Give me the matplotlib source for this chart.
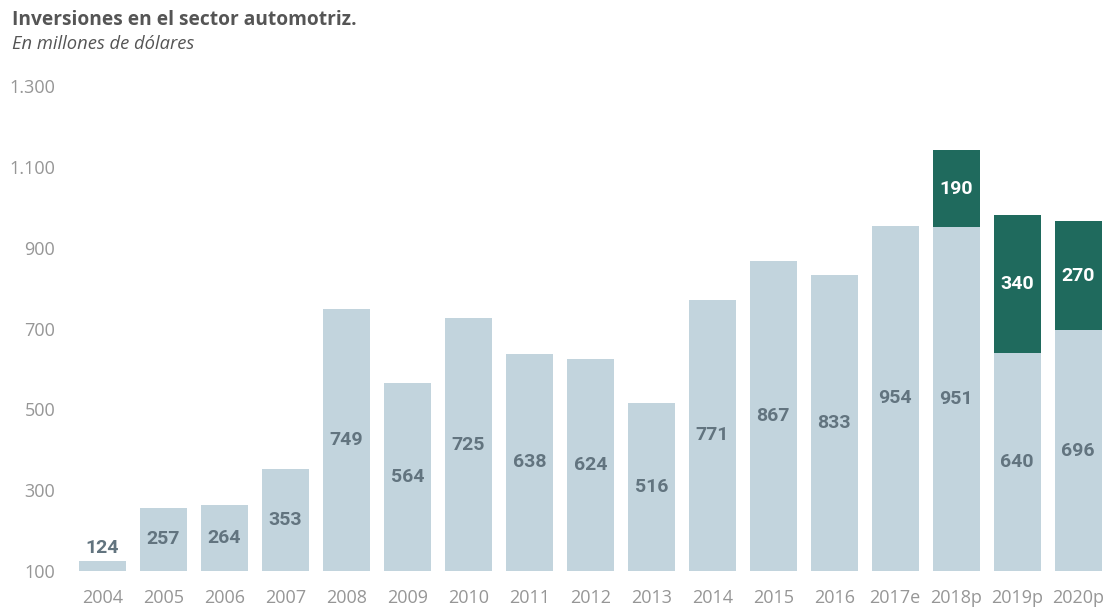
import matplotlib.pyplot as plt

years = ['2004', '2005', '2006', '2007', '2008', '2009', '2010', '2011', '2012',
         '2013', '2014', '2015', '2016', '2017e', '2018p', '2019p', '2020p']
base = [124, 257, 264, 353, 749, 564, 725, 638, 624, 516, 771, 867, 833, 954, 951, 640, 696]
extra = [0, 0, 0, 0, 0, 0, 0, 0, 0, 0, 0, 0, 0, 0, 190, 340, 270]
yticks = [100, 300, 500, 700, 900, 1100, 1300]
ytick_labels = ['100', '300', '500', '700', '900', '1.100', '1.300']

light = '#c2d4dd'
dark = '#1f6a5d'
txt = '#62747f'
axis_txt = '#969696'

fig = plt.figure(figsize=(11.05, 6.07), dpi=100)
ax = fig.add_axes([72 / 1105, 36 / 607, 1033 / 1105, 485 / 607])

x = list(range(len(years)))
ax.bar(x, base, width=0.77, color=light, bottom=0)
ax.bar(x, extra, width=0.77, color=dark, bottom=base)

# labels sit halfway between the axis floor and the top of each segment
ymin = 100
for i, (b, e) in enumerate(zip(base, extra)):
    if b < 200:
        ax.text(i, b + 10, str(b), ha='center', va='bottom', color=txt,
                fontsize=14, fontweight='bold', family='Roboto')
    else:
        ax.text(i, (ymin + b) / 2, str(b), ha='center', va='center', color=txt,
                fontsize=14, fontweight='bold', family='Roboto')
    if e:
        ax.text(i, b + e / 2, str(e), ha='center', va='center', color='white',
                fontsize=14, fontweight='bold', family='Roboto')

ax.set_xlim(-0.5, 16.44)
ax.set_ylim(100, 1300)
ax.set_xticks(x)
ax.set_xticklabels(years, family='Open Sans', fontsize=13, color=axis_txt)
ax.set_yticks(yticks)
ax.set_yticklabels(ytick_labels, family='Open Sans', fontsize=13, color=axis_txt)
ax.tick_params(axis='both', length=0)
ax.tick_params(axis='x', pad=13)
ax.tick_params(axis='y', pad=12)
for s in ax.spines.values():
    s.set_visible(False)

fig.text(12 / 1105, 1 - 20 / 607, 'Inversiones en el sector automotriz.', family='Open Sans',
         fontweight='bold', fontsize=13.8, color='#555555', va='center', ha='left')
fig.text(12 / 1105, 1 - 44 / 607, 'En millones de dólares', family='Open Sans',
         style='italic', fontsize=13.2, color='#555555', va='center', ha='left')

fig.savefig('out.png', dpi=100)
